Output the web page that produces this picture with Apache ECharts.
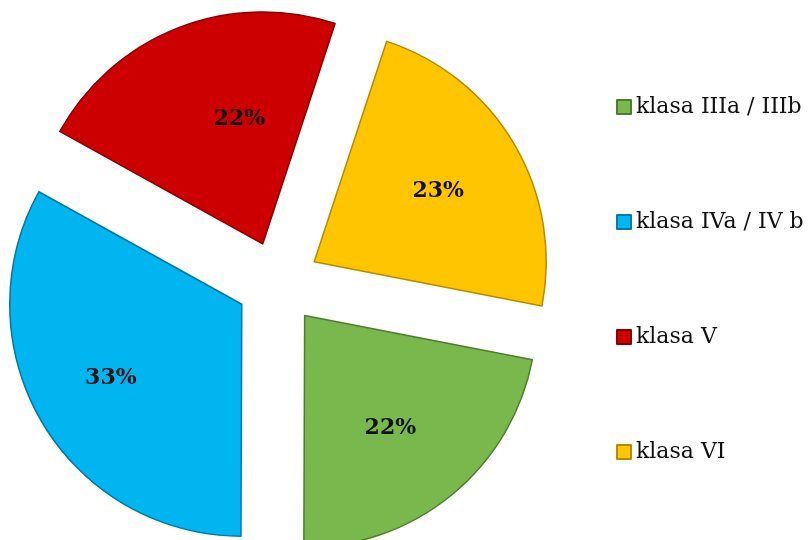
<!DOCTYPE html>
<html>
<head>
<meta charset="utf-8">
<script src="https://cdn.jsdelivr.net/npm/echarts@6/dist/echarts.min.js"></script>
<style>
html,body{margin:0;padding:0;background:#fff;}
#chart{width:809px;height:540px;}
</style>
</head>
<body>
<div id="chart"></div>
<script>
// dane z wykresu
var categories = ['klasa IIIa / IIIb', 'klasa IVa / IV b', 'klasa V', 'klasa VI'];
var values = [22, 33, 22, 23];
var colors = ['#79b84c', '#00b5f0', '#cc0000', '#ffc600'];
var edges = ['#4f7d2e', '#0079a6', '#8a0000', '#b88a00'];
// przesuniecie etykiet (padding: gora, prawo, dol, lewo)
var labelPad = [[0, 14, 0, 0], [0, 10, 0, 0], [22, 0, 0, 60], [6, 4, 0, 0]];

var chart = echarts.init(document.getElementById('chart'));

function items(withStyle) {
  return categories.map(function (c, i) {
    var it = { name: c, value: values[i], selected: true };
    if (withStyle) {
      it.itemStyle = { color: colors[i], borderColor: edges[i], borderWidth: 1.5 };
    } else {
      it.label = {
        formatter: '{p|{d}%}',
        rich: { p: {
          padding: labelPad[i],
          fontFamily: 'DejaVu Serif',
          fontWeight: 'bold',
          fontSize: 22,
          color: '#111'
        } }
      };
    }
    return it;
  });
}

chart.setOption({
  animation: false,
  color: colors,
  legend: {
    orient: 'vertical',
    left: 616,
    top: 96,
    padding: 0,
    itemWidth: 14,
    itemHeight: 14,
    itemGap: 93,
    icon: 'rect',
    textStyle: { fontFamily: 'DejaVu Serif', fontSize: 22, color: '#111' },
    data: categories
  },
  series: [{
    type: 'pie',
    center: [278, 283],
    radius: [0, 232],
    startAngle: -11,
    clockwise: true,
    selectedMode: 'multiple',
    selectedOffset: 42,
    label: { show: false },
    labelLine: { show: false },
    emphasis: { disabled: true },
    data: items(true)
  }, {
    // tylko etykiety
    type: 'pie',
    silent: true,
    center: [278, 283],
    radius: [54, 232],
    startAngle: -11,
    clockwise: true,
    selectedMode: 'multiple',
    selectedOffset: 42,
    itemStyle: { color: 'transparent', borderWidth: 0 },
    label: {
      show: true,
      position: 'inside',
      fontFamily: 'DejaVu Serif',
      fontWeight: 'bold',
      fontSize: 22,
      color: '#111'
    },
    labelLine: { show: false },
    emphasis: { disabled: true },
    data: items(false)
  }]
});
</script>
</body>
</html>
